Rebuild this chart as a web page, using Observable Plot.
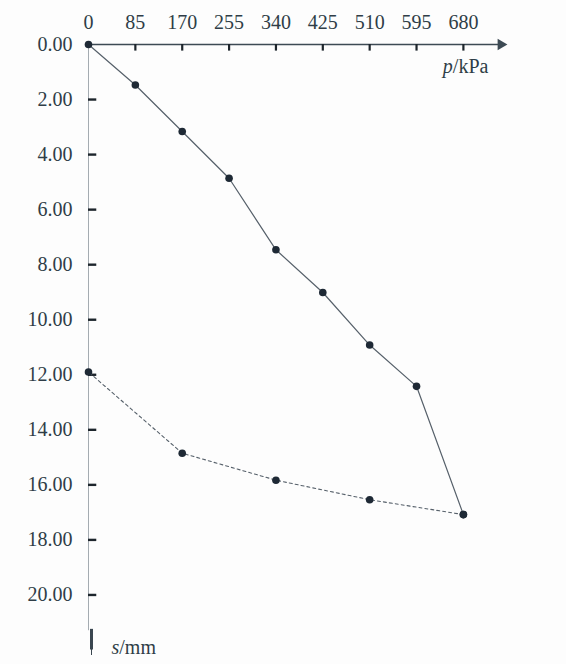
<!DOCTYPE html>
<html>
<head>
<meta charset="utf-8">
<script src="https://cdn.jsdelivr.net/npm/d3@7"></script>
<script src="https://cdn.jsdelivr.net/npm/@observablehq/plot@0.6"></script>
<style>
  html, body { margin: 0; padding: 0; background: #fdfdfd; }
  #chart { width: 566px; height: 664px; }
</style>
</head>
<body>
<div id="chart"></div>
<script>
// Loading curve: pressure p (kPa) vs settlement s (mm)
const loadP = [0, 85, 170, 255, 340, 425, 510, 595, 680];
const loadS = [0, 1.47, 3.16, 4.86, 7.46, 9.01, 10.92, 12.42, 17.08];
// Unloading curve
const unloadP = [680, 510, 340, 170, 0];
const unloadS = [17.08, 16.54, 15.83, 14.85, 11.90];
// Axis ticks
const xTicks = [85, 170, 255, 340, 425, 510, 595, 680];
const xTickLabels = [0, 85, 170, 255, 340, 425, 510, 595, 680];
const yTicks = [2, 4, 6, 8, 10, 12, 14, 16, 18, 20];
const yTickLabels = [0, 2, 4, 6, 8, 10, 12, 14, 16, 18, 20];
const xMax = 760;   // extent of the p axis arrow
const yMax = 22.2;  // extent of the s axis arrow
const xTitle = "p/kPa";
const yTitle = "s/mm";

const loading = loadP.map((p, i) => ({p, s: loadS[i]}));
const unloading = unloadP.map((p, i) => ({p, s: unloadS[i]}));

const textColor = "#2f3d47";
const lineColor = "#56606a";
const dotColor = "#1e2935";
const font = "'Liberation Serif', 'Times New Roman', 'DejaVu Serif', serif";

const chart = Plot.plot({
  width: 566,
  height: 664,
  marginLeft: 88,
  marginRight: 59,
  marginTop: 44,
  marginBottom: 9,
  style: {background: "#fdfdfd", fontFamily: font},
  x: {domain: [0, xMax], axis: null},
  y: {domain: [0, yMax], reverse: true, axis: null},
  marks: [
    // s axis (vertical), thin gray
    Plot.ruleX([0], {y1: 0, y2: yMax - 0.9, stroke: "#9aa2a8", strokeWidth: 0.9}),
    // down arrow of s axis
    Plot.ruleX([0], {y1: yMax - 0.95, y2: yMax - 0.2, stroke: "#3a4650", strokeWidth: 3, dx: 3}),
    Plot.ruleX([0], {y1: yMax - 0.3, y2: yMax, stroke: "#3a4650", strokeWidth: 1, dx: 3}),
    // p axis (horizontal) with arrow
    Plot.ruleY([0], {x1: 0, x2: xMax - 8, stroke: "#3d4a54", strokeWidth: 1.3}),
    Plot.dot([{x: xMax - 12, y: 0}], {x: "x", y: "y", symbol: "triangle", rotate: 90, r: 4.2, fill: "#3d4a54", stroke: "none"}),
    // x ticks (downward)
    Plot.ruleX(xTicks, {x: d => d, y1: 0, y2: 0.24, stroke: "#1d252c", strokeWidth: 2.2}),
    // y ticks (to the right)
    Plot.ruleY(yTicks, {y: d => d, x1: 0, x2: 15, stroke: "#1d252c", strokeWidth: 2.4}),
    // tick labels
    Plot.text(xTickLabels, {x: d => d, y: 0, text: d => String(d), dy: -22, fontSize: 20, fill: textColor, fontFamily: font}),
    Plot.text(yTickLabels, {x: 0, y: d => d, text: d => d.toFixed(2), textAnchor: "end", dx: -16, fontSize: 20, fill: textColor, fontFamily: font}),
    // axis titles
    Plot.text([xTitle], {x: 680, y: 0, text: d => d, textAnchor: "end", dx: 25, dy: 22, fontSize: 20, fill: textColor, fontFamily: font, className: "axtitle"}),
    Plot.text([yTitle], {x: 0, y: yMax, text: d => d, textAnchor: "start", dx: 23, dy: -8, fontSize: 20, fill: textColor, fontFamily: font, className: "axtitle"}),
    // curves
    Plot.line(loading, {x: "p", y: "s", stroke: lineColor, strokeWidth: 1.2}),
    Plot.line(unloading, {x: "p", y: "s", stroke: lineColor, strokeWidth: 1.1, strokeDasharray: "3,3"}),
    Plot.dot(loading, {x: "p", y: "s", r: 3.8, fill: dotColor, stroke: "none"}),
    Plot.dot(unloading, {x: "p", y: "s", r: 3.8, fill: dotColor, stroke: "none"})
  ]
});

// italicise the variable letter in the axis titles
d3.select(chart).selectAll("g.axtitle text").each(function() {
  const t = this.textContent;
  const i = t.indexOf("/");
  const sel = d3.select(this);
  sel.text(null);
  sel.append("tspan").attr("font-style", "italic").text(t.slice(0, i));
  sel.append("tspan").text(t.slice(i));
});

document.getElementById("chart").appendChild(chart);
</script>
</body>
</html>
